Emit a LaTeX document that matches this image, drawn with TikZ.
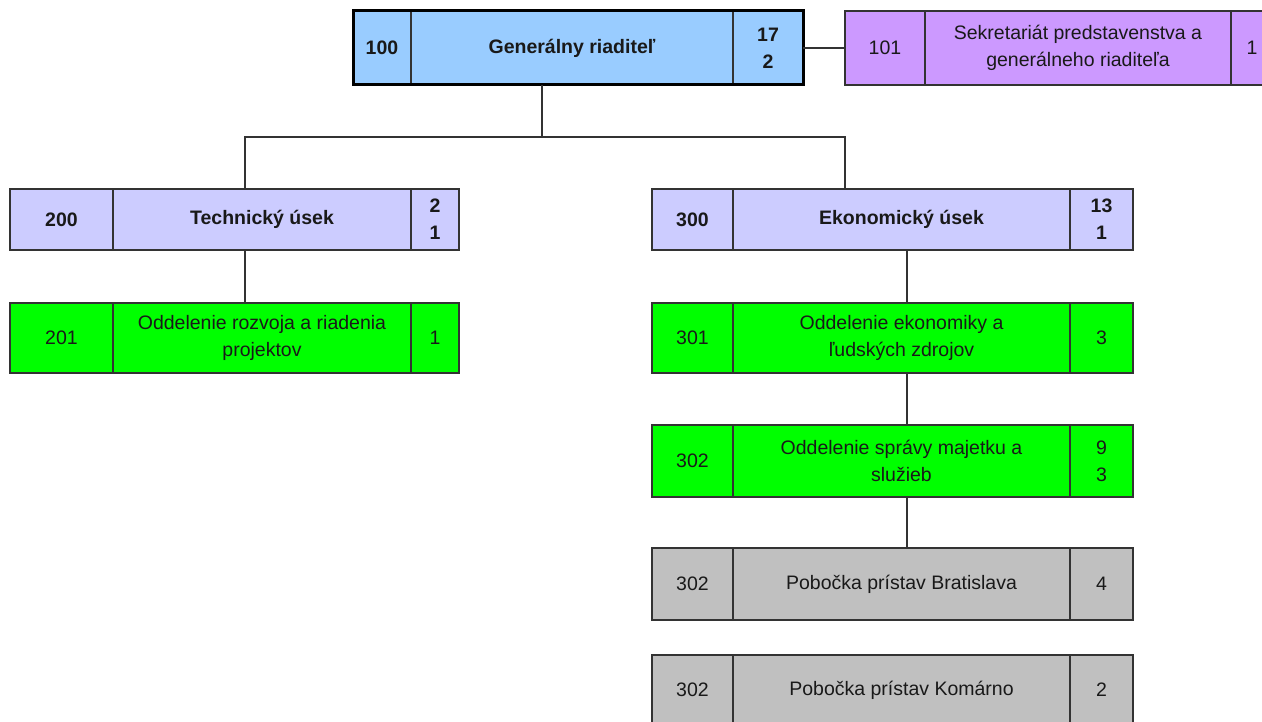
\documentclass[tikz,border=0pt]{standalone}
\usepackage{fontspec}
\setmainfont{Liberation Sans}
\usetikzlibrary{positioning}
\definecolor{boardblue}{HTML}{99CCFF}
\definecolor{officeviolet}{HTML}{CC99FF}
\definecolor{sectionlav}{HTML}{CCCCFF}
\definecolor{deptgreen}{HTML}{00FF00}
\definecolor{branchgray}{HTML}{C0C0C0}
\tikzset{
  cell/.style={draw=black!80, line width=1.2pt, fill=#1, inner sep=0pt, outer sep=0pt,
    align=center, anchor=north west, text=black!90, font=\fontsize{19.5}{27}\selectfont},
  hd/.style={font=\bfseries\fontsize{19.5}{27}\selectfont},
  link/.style={draw=black!80, line width=1.2pt},
}
\begin{document}
\begin{tikzpicture}[x=1pt, y=-1pt]
  \clip (0,0) rectangle (1262,722);
  % generalny riaditel
  \node[cell=boardblue, hd, minimum width=58pt, minimum height=74pt] (n100code) at (353,11) {100};
  \node[cell=boardblue, hd, minimum width=322pt, minimum height=74pt, right=0pt of n100code] (n100name) {Generálny riaditeľ};
  \node[cell=boardblue, hd, minimum width=70pt, minimum height=74pt, right=0pt of n100name] (n100cnt) {17\\2};
  \draw[line width=3pt] (n100code.north west) rectangle (n100cnt.south east);
  % sekretariat
  \node[cell=officeviolet, minimum width=80pt, minimum height=74pt] (n101code) at (845,11) {101};
  \node[cell=officeviolet, minimum width=306pt, minimum height=74pt, right=0pt of n101code] (n101name) {Sekretariát predstavenstva a\\generálneho riaditeľa};
  \node[cell=officeviolet, minimum width=42pt, minimum height=74pt, right=0pt of n101name] (n101cnt) {1};
  % useky
  \node[cell=sectionlav, hd, minimum width=103pt, minimum height=61pt] (n200code) at (10,189) {200};
  \node[cell=sectionlav, hd, minimum width=298pt, minimum height=61pt, right=0pt of n200code] (n200name) {Technický úsek};
  \node[cell=sectionlav, hd, minimum width=48pt, minimum height=61pt, right=0pt of n200name] (n200cnt) {2\\1};
  \node[cell=sectionlav, hd, minimum width=81pt, minimum height=61pt] (n300code) at (652,189) {300};
  \node[cell=sectionlav, hd, minimum width=337pt, minimum height=61pt, right=0pt of n300code] (n300name) {Ekonomický úsek};
  \node[cell=sectionlav, hd, minimum width=63pt, minimum height=61pt, right=0pt of n300name] (n300cnt) {13\\1};
  % oddelenia
  \node[cell=deptgreen, minimum width=103pt, minimum height=70pt] (n201code) at (10,303) {201};
  \node[cell=deptgreen, minimum width=298pt, minimum height=70pt, right=0pt of n201code] (n201name) {Oddelenie rozvoja a riadenia\\projektov};
  \node[cell=deptgreen, minimum width=48pt, minimum height=70pt, right=0pt of n201name] (n201cnt) {1};
  \node[cell=deptgreen, minimum width=81pt, minimum height=70pt] (n301code) at (652,303) {301};
  \node[cell=deptgreen, minimum width=337pt, minimum height=70pt, right=0pt of n301code] (n301name) {Oddelenie ekonomiky a\\ľudských zdrojov};
  \node[cell=deptgreen, minimum width=63pt, minimum height=70pt, right=0pt of n301name] (n301cnt) {3};
  \node[cell=deptgreen, minimum width=81pt, minimum height=72pt] (n302code) at (652,425) {302};
  \node[cell=deptgreen, minimum width=337pt, minimum height=72pt, right=0pt of n302code] (n302name) {Oddelenie správy majetku a\\služieb};
  \node[cell=deptgreen, minimum width=63pt, minimum height=72pt, right=0pt of n302name] (n302cnt) {9\\3};
  % pobocky
  \node[cell=branchgray, minimum width=81pt, minimum height=72pt] (nBAcode) at (652,548) {302};
  \node[cell=branchgray, minimum width=337pt, minimum height=72pt, right=0pt of nBAcode] (nBAname) {Pobočka prístav Bratislava};
  \node[cell=branchgray, minimum width=63pt, minimum height=72pt, right=0pt of nBAname] (nBAcnt) {4};
  \node[cell=branchgray, minimum width=81pt, minimum height=70pt] (nKNcode) at (652,655) {302};
  \node[cell=branchgray, minimum width=337pt, minimum height=70pt, right=0pt of nKNcode] (nKNname) {Pobočka prístav Komárno};
  \node[cell=branchgray, minimum width=63pt, minimum height=70pt, right=0pt of nKNname] (nKNcnt) {2};
  % spojnice
  \coordinate (jTop) at (542,137);
  \coordinate (jTech) at (245,137);
  \coordinate (jEko) at (845,137);
  \coordinate (xEko) at (907,0);
  \draw[link] (n100cnt.east) -- (n101code.west);
  \draw[link] (n100name.south -| jTop) -- (jTop);
  \draw[link] (n200name.north -| jTech) -- (jTech) -- (jEko) -- (n300name.north -| jEko);
  \draw[link] (n200name.south -| jTech) -- (n201name.north -| jTech);
  \draw[link] (n300name.south -| xEko) -- (n301name.north -| xEko);
  \draw[link] (n301name.south -| xEko) -- (n302name.north -| xEko);
  \draw[link] (n302name.south -| xEko) -- (nBAname.north -| xEko);
\end{tikzpicture}
\end{document}
